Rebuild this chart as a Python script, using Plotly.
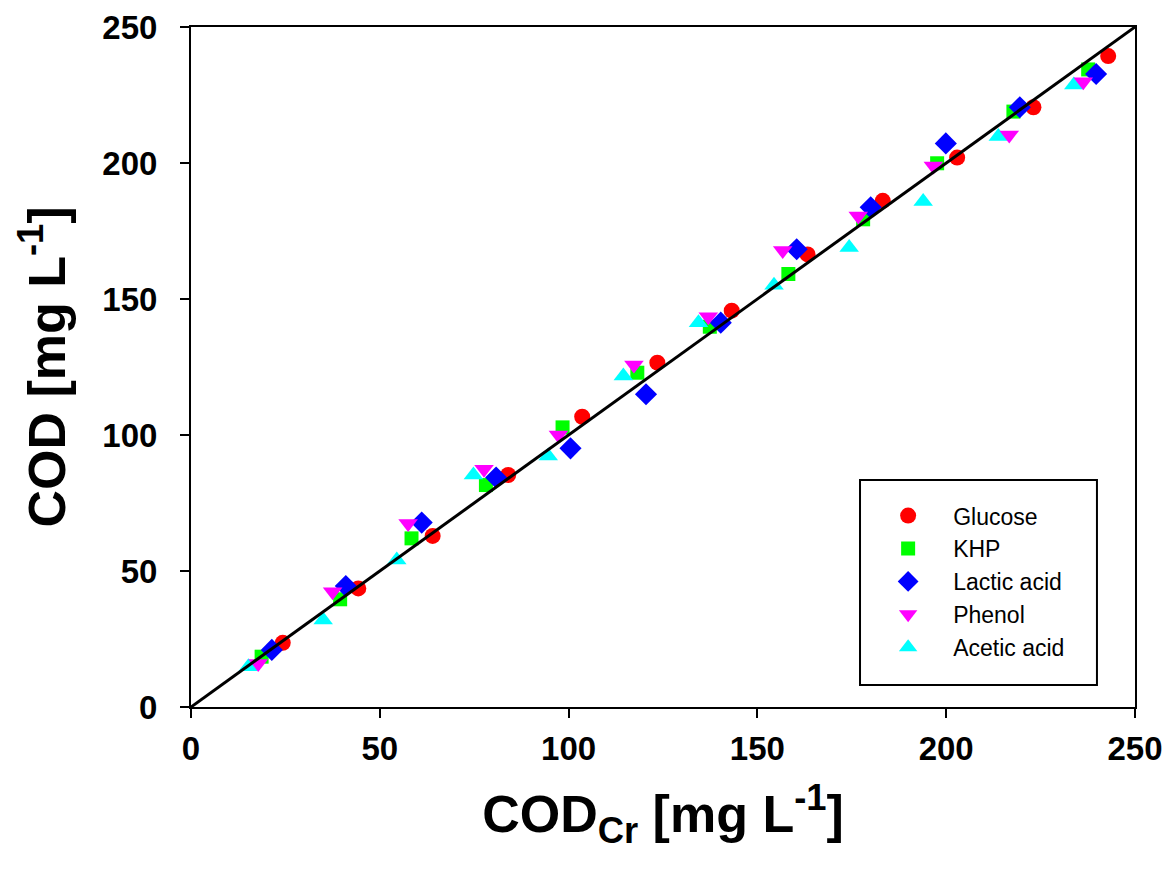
import plotly.graph_objects as go

# COD_Cr reference values (x) and measured COD (y) for each test compound
glucose_x = [24.3, 44.3, 64.0, 84.0, 103.6, 123.5, 143.2, 163.3, 183.2, 202.9, 223.1, 242.9]
glucose_y = [23.6, 43.6, 62.9, 85.3, 106.7, 126.6, 145.7, 166.4, 186.1, 202.0, 220.5, 239.3]

khp_x = [18.7, 39.5, 58.4, 78.1, 98.4, 118.2, 137.4, 158.2, 178.0, 197.6, 217.8, 237.6]
khp_y = [18.5, 39.6, 62.0, 81.6, 102.8, 122.9, 139.8, 159.2, 179.3, 199.9, 218.9, 234.4]

lactic_x = [21.4, 41.0, 61.1, 80.8, 100.5, 120.5, 140.3, 160.4, 180.0, 199.9, 219.5, 239.7]
lactic_y = [21.0, 44.5, 67.8, 84.4, 95.1, 115.0, 141.3, 168.3, 183.7, 207.2, 220.5, 232.7]

phenol_x = [17.8, 37.5, 57.5, 77.6, 97.3, 117.3, 137.0, 156.7, 176.7, 196.6, 216.7, 236.3]
phenol_y = [16.0, 42.4, 67.5, 87.4, 100.0, 125.7, 143.5, 167.8, 180.5, 198.9, 210.3, 229.9]

acetic_x = [15.2, 35.0, 54.5, 74.8, 94.6, 114.5, 134.4, 154.4, 174.3, 193.9, 213.8, 233.8]
acetic_y = [14.8, 32.0, 54.0, 85.3, 92.3, 121.7, 141.3, 155.1, 168.9, 185.8, 209.7, 228.7]

# 1:1 line
line_x = [0, 250]
line_y = [0, 250]

tick_vals = [0, 50, 100, 150, 200, 250]

series = [
    ("Glucose", glucose_x, glucose_y, "circle", "#ff0000", 16, 1),
    ("KHP", khp_x, khp_y, "square", "#00ff00", 14, 2),
    ("Lactic acid", lactic_x, lactic_y, "diamond", "#0000ff", 17, 3),
    ("Acetic acid", acetic_x, acetic_y, "triangle-up", "#00ffff", 17, 5),
    ("Phenol", phenol_x, phenol_y, "triangle-down", "#ff00ff", 17, 4),
]

fig = go.Figure()
for name, xs, ys, sym, col, size, rank in series:
    fig.add_trace(go.Scatter(
        x=xs, y=ys, mode="markers", name=name, legendrank=rank,
        marker=dict(symbol=sym, color=col, size=size, line=dict(width=0)),
    ))

fig.add_trace(go.Scatter(
    x=line_x, y=line_y, mode="lines", showlegend=False,
    line=dict(color="black", width=3),
))

# legend frame
fig.add_shape(type="rect", xref="paper", yref="paper",
              x0=0.7087, x1=0.9597, y0=0.0324, y1=0.3338,
              line=dict(color="black", width=2), fillcolor="rgba(0,0,0,0)")

fig.update_layout(
    width=1169, height=877,
    margin=dict(l=191, r=34, t=27, b=170),
    paper_bgcolor="white", plot_bgcolor="white",
    showlegend=True,
    legend=dict(
        x=0.712, y=0.313, xanchor="left", yanchor="top",
        bgcolor="rgba(0,0,0,0)", borderwidth=0,
        itemwidth=80, tracegroupgap=0,
        font=dict(family="Liberation Sans, Arial, sans-serif", size=23, color="black"),
    ),
    xaxis=dict(
        range=[0, 250], tickvals=tick_vals,
        showgrid=False, zeroline=False,
        showline=True, linecolor="black", linewidth=2, mirror=True,
        ticks="outside", ticklen=9, tickwidth=2, tickcolor="black",
        ticklabelstandoff=2,
        tickfont=dict(family="Liberation Sans, Arial, sans-serif",
                      size=33, color="black", weight="bold"),
        title=dict(
            text="<b>COD<sub>Cr</sub> [mg L<sup>-1</sup>]</b>",
            font=dict(family="Liberation Sans, Arial, sans-serif",
                      size=52, color="black"),
            standoff=30,
        ),
        automargin=False,
    ),
    yaxis=dict(
        range=[0, 250], tickvals=tick_vals,
        showgrid=False, zeroline=False,
        showline=True, linecolor="black", linewidth=2, mirror=True,
        ticks="outside", ticklen=9, tickwidth=2, tickcolor="black",
        ticklabelstandoff=16,
        tickfont=dict(family="Liberation Sans, Arial, sans-serif",
                      size=33, color="black", weight="bold"),
        title=dict(
            text="<b>COD [mg L<sup>-1</sup>]</b>",
            font=dict(family="Liberation Sans, Arial, sans-serif",
                      size=52, color="black"),
            standoff=20,
        ),
        automargin=False,
    ),
)

fig.write_html("out.html")
